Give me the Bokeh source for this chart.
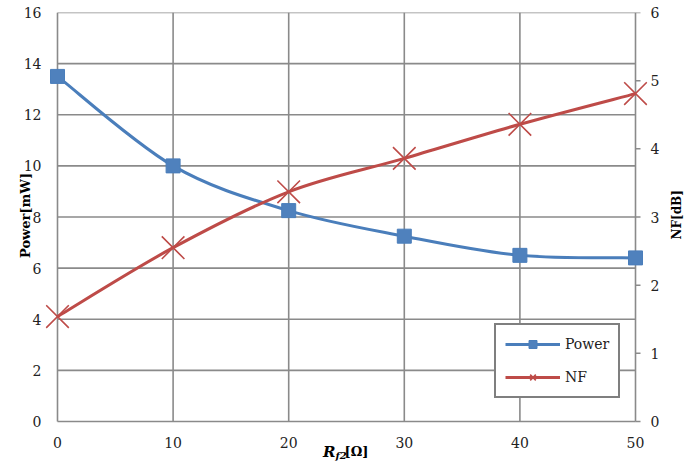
import math
import numpy as np
from bokeh.plotting import figure
from bokeh.models import (Range1d, LinearAxis, Legend, LegendItem, Label,
                          FixedTicker)
from bokeh.embed import file_html
from bokeh.resources import INLINE

# Load resistance R_f2 [Ohm]
r_f2 = [0, 10, 20, 30, 40, 50]
# Output power [mW] (left axis)
power_mw = [13.5, 10.0, 8.25, 7.25, 6.5, 6.4]
# Noise figure [dB] (right axis)
nf_db = [1.54, 2.55, 3.37, 3.86, 4.36, 4.81]

x_ticks = [0, 10, 20, 30, 40, 50]
power_ticks = [0, 2, 4, 6, 8, 10, 12, 14, 16]
nf_ticks = [0, 1, 2, 3, 4, 5, 6]

X_MIN, X_MAX = 0, 50
P_MIN, P_MAX = 0, 16
N_MIN, N_MAX = 0, 6

# Page layout in pixels: the plotting frame is a little larger than the
# axes box so that end markers and the x title are not cut off.
W, H = 700, 468
AX_LEFT, AX_RIGHT, AX_TOP, AX_BOTTOM = 57, 635, 12, 421
FR_LEFT, FR_RIGHT, FR_BOTTOM = 45, 647, 466

px_x = (AX_RIGHT - AX_LEFT) / (X_MAX - X_MIN)
px_y = (AX_BOTTOM - AX_TOP) / (P_MAX - P_MIN)
x_lo = X_MIN - (AX_LEFT - FR_LEFT) / px_x
x_hi = X_MAX + (FR_RIGHT - AX_RIGHT) / px_x
y_lo = P_MIN - (FR_BOTTOM - AX_BOTTOM) / px_y
nf_scale = (N_MAX - N_MIN) / (P_MAX - P_MIN)
nf_lo = N_MIN + (y_lo - P_MIN) * nf_scale

FONT = "DejaVu Serif"
GRID = "#8a8a8a"
BLUE = "#4A7EBB"
BLUE_FILL = "#4F81BD"
RED = "#BE4B48"
TXT = "#222222"

# The left title is centred on the whole frame, which reaches below the
# axes box; leading wide spaces lift it to the middle of the box.
EM, EN, THIN = "\u2003", "\u2002", "\u2009"


def smooth_segments(xs, ys):
    """Cubic Bezier segments (Catmull-Rom style) through the given points."""
    x = np.asarray(xs, float)
    y = np.asarray(ys, float)
    xp = np.concatenate([[x[0]], x, [x[-1]]])
    yp = np.concatenate([[y[0]], y, [y[-1]]])
    seg = dict(x0=[], y0=[], x1=[], y1=[], cx0=[], cy0=[], cx1=[], cy1=[])
    for i in range(len(x) - 1):
        px, py = xp[i], yp[i]
        ax, ay = xp[i + 1], yp[i + 1]
        bx, by = xp[i + 2], yp[i + 2]
        nx, ny = xp[i + 3], yp[i + 3]
        seg["x0"].append(ax); seg["y0"].append(ay)
        seg["x1"].append(bx); seg["y1"].append(by)
        seg["cx0"].append(ax + (bx - px) / 6); seg["cy0"].append(ay + (by - py) / 6)
        seg["cx1"].append(bx - (nx - ax) / 6); seg["cy1"].append(by - (ny - ay) / 6)
    return seg


p = figure(width=W, height=H, output_backend="svg", toolbar_location=None,
           x_range=Range1d(x_lo, x_hi), y_range=Range1d(y_lo, P_MAX),
           min_border_left=FR_LEFT, min_border_right=W - FR_RIGHT,
           min_border_top=AX_TOP, min_border_bottom=H - FR_BOTTOM)
p.extra_y_ranges = {"nf": Range1d(nf_lo, N_MAX)}
p.background_fill_color = "white"
p.border_fill_color = "white"
p.outline_line_color = None
p.grid.visible = False

# Grid (also forms the box around the plot area)
p.segment(x0=x_ticks, x1=x_ticks, y0=[P_MIN] * len(x_ticks), y1=[P_MAX] * len(x_ticks),
          line_color=GRID, line_width=1.6)
p.segment(x0=[X_MIN] * len(power_ticks), x1=[X_MAX] * len(power_ticks),
          y0=power_ticks, y1=power_ticks, line_color=GRID, line_width=1.6)
# outward tick marks of the NF axis
tick_len = 5 / px_x
p.segment(x0=[X_MAX] * len(nf_ticks), x1=[X_MAX + tick_len] * len(nf_ticks),
          y0=nf_ticks, y1=nf_ticks, y_range_name="nf", line_color=GRID, line_width=1.5)


def style_axis(ax):
    ax.axis_line_color = None
    ax.major_tick_line_color = None
    ax.minor_tick_line_color = None
    ax.major_tick_out = 0
    ax.major_tick_in = 0
    ax.major_label_text_font = FONT
    ax.major_label_text_font_size = "14px"
    ax.major_label_text_color = TXT
    ax.axis_label_text_font = FONT
    ax.axis_label_text_font_style = "bold"
    ax.axis_label_text_color = "black"


# Bottom axis
xa = p.xaxis[0]
xa.ticker = FixedTicker(ticks=x_ticks)
xa.bounds = (X_MIN, X_MAX)
style_axis(xa)
xa.major_label_standoff = -30

# Left axis
ya = p.yaxis[0]
ya.ticker = FixedTicker(ticks=power_ticks)
ya.bounds = (P_MIN, P_MAX)
style_axis(ya)
ya.major_label_standoff = 4
ya.axis_label = EM * 3 + EN + THIN + "Power[mW]"
ya.axis_label_text_font_size = "13px"
ya.axis_label_standoff = -12

# Right axis (noise figure), title read from bottom to top
right = LinearAxis(y_range_name="nf", ticker=FixedTicker(ticks=nf_ticks),
                   axis_label="NF[dB]", bounds=(N_MIN, N_MAX))
style_axis(right)
right.major_label_standoff = 3
right.axis_label_text_font_size = "12px"
right.axis_label_standoff = 15
if "axis_label_orientation" in right.properties():
    right.axis_label_orientation = math.pi / 2
p.add_layout(right, "right")

# Power series
ps = smooth_segments(r_f2, power_mw)
power_line = p.bezier(x0="x0", y0="y0", x1="x1", y1="y1", cx0="cx0", cy0="cy0",
                      cx1="cx1", cy1="cy1", source=ps, line_color=BLUE, line_width=3)
power_pts = p.scatter(r_f2, power_mw, marker="square", size=14,
                      fill_color=BLUE_FILL, line_color=BLUE)

# NF series
ns = smooth_segments(r_f2, nf_db)
nf_line = p.bezier(x0="x0", y0="y0", x1="x1", y1="y1", cx0="cx0", cy0="cy0",
                   cx1="cx1", cy1="cy1", source=ns, line_color=RED, line_width=3,
                   y_range_name="nf")
nf_pts = p.scatter(r_f2, nf_db, marker="x", size=32, line_color=RED,
                   line_width=1.6, y_range_name="nf")

legend = Legend(items=[LegendItem(label="Power", renderers=[power_line, power_pts]),
                       LegendItem(label="NF", renderers=[nf_line, nf_pts])],
                location=(494 - FR_LEFT, FR_BOTTOM - 398))
legend.border_line_color = "black"
legend.border_line_width = 2
legend.background_fill_color = "white"
legend.background_fill_alpha = 1
legend.label_text_font = FONT
legend.label_text_font_size = "14px"
legend.label_text_color = TXT
legend.glyph_width = 55
legend.glyph_height = 20
legend.label_height = 20
legend.spacing = 13
legend.padding = 9
legend.margin = 0
p.add_layout(legend, "center")

# X axis title: R with subscript f2, then [Ω]
mid = (X_MIN + X_MAX) / 2


def below_axis(px_down):
    return P_MIN - px_down / px_y


p.add_layout(Label(x=mid, y=below_axis(21), x_offset=-11, text="R",
                   text_align="right", text_font=FONT, text_font_style="bold italic",
                   text_font_size="15px", text_baseline="top", text_color="black"))
p.add_layout(Label(x=mid, y=below_axis(28), x_offset=-11, text="f2",
                   text_align="left", text_font=FONT, text_font_style="bold italic",
                   text_font_size="10px", text_baseline="top", text_color="black"))
p.add_layout(Label(x=mid, y=below_axis(22), x_offset=-2, text="[Ω]",
                   text_align="left", text_font=FONT, text_font_style="bold",
                   text_font_size="13px", text_baseline="top", text_color="black"))

open("out.html", "w").write(file_html(p, INLINE))
